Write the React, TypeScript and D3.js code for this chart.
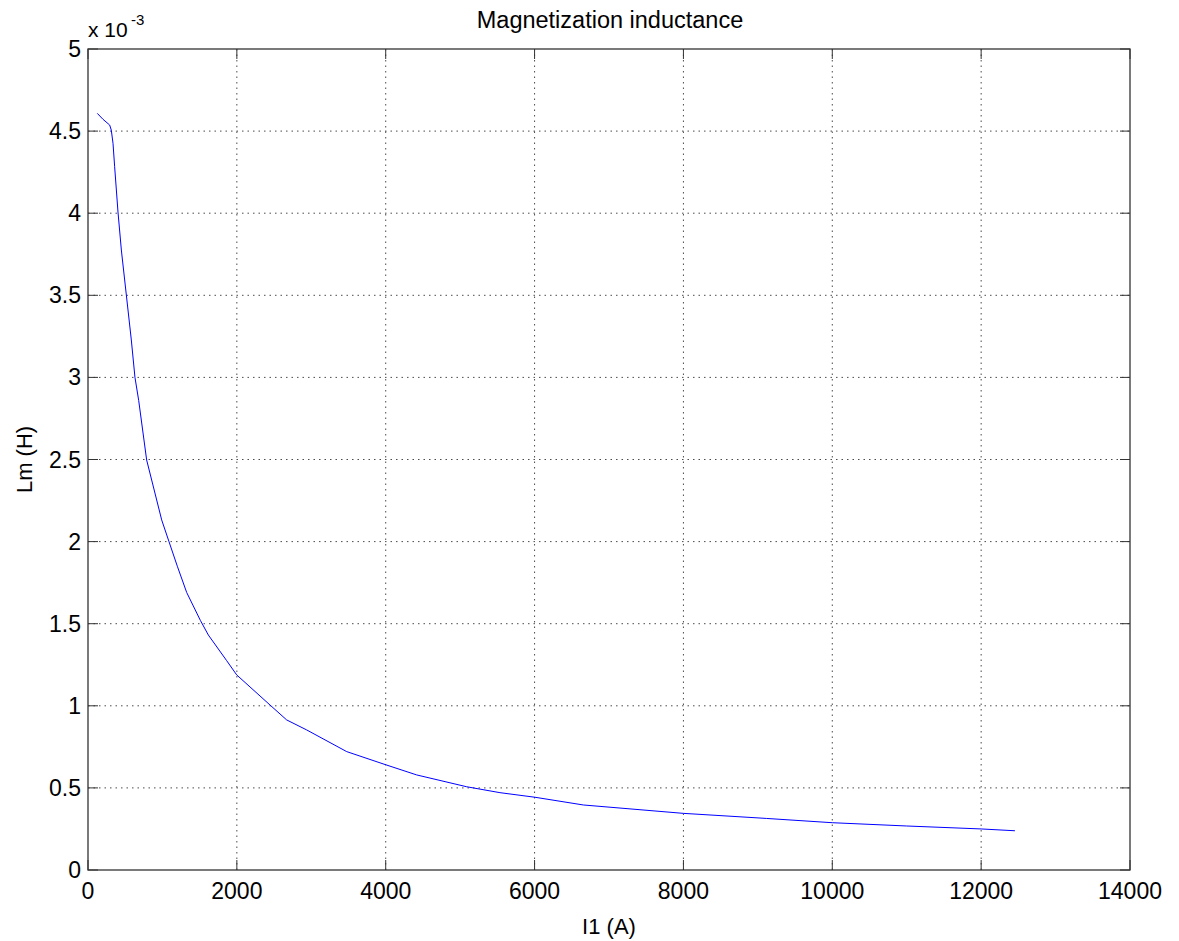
import React from "react";
import * as d3 from "d3";

const currentA = [125, 201, 291, 313, 336, 358, 403, 448, 515, 582, 631, 681, 788, 990, 1088, 1200, 1326, 1510, 1617, 1863, 1998, 2445, 2669, 2938, 3476, 4013, 4416, 5088, 5535, 6006, 6655, 7998, 9118, 10000, 11000, 12000, 12454];
const inductanceMilliH = [4.608, 4.572, 4.537, 4.506, 4.426, 4.283, 4.007, 3.776, 3.502, 3.228, 3.0, 2.86, 2.497, 2.132, 2.0, 1.85, 1.69, 1.52, 1.431, 1.275, 1.188, 1.005, 0.914, 0.853, 0.721, 0.639, 0.579, 0.507, 0.471, 0.443, 0.396, 0.345, 0.314, 0.288, 0.268, 0.25, 0.239];
const xTicks = [0, 2000, 4000, 6000, 8000, 10000, 12000, 14000];
const yTicks = [0, 0.5, 1, 1.5, 2, 2.5, 3, 3.5, 4, 4.5, 5];
const yTickLabels = ["0", "0.5", "1", "1.5", "2", "2.5", "3", "3.5", "4", "4.5", "5"];

const W = 1179, H = 941;
const L = 88, R = 1130, T = 49, B = 870;
const FONT = "'Liberation Sans', Arial, Helvetica, sans-serif";

export default function App() {
  const x = d3.scaleLinear().domain([0, 14000]).range([L, R]);
  const y = d3.scaleLinear().domain([0, 5]).range([B, T]);
  const line = d3.line<number>().x((_, i) => x(currentA[i])).y((d) => y(d));
  const path = line(inductanceMilliH) || "";
  const tickLen = 10;
  return (
    <svg width={W} height={H} style={{ position: "absolute", left: 0, top: 0, background: "#fff" }}>
      <rect x={0} y={0} width={W} height={H} fill="#fff" />
      {xTicks.slice(1, -1).map((t) => (
        <line key={"gx" + t} x1={x(t)} x2={x(t)} y1={T} y2={B} stroke="#000" strokeWidth={1} strokeDasharray="1.5,4" opacity={0.7} />
      ))}
      {yTicks.slice(1, -1).map((t) => (
        <line key={"gy" + t} x1={L} x2={R} y1={y(t)} y2={y(t)} stroke="#000" strokeWidth={1} strokeDasharray="1.5,4" opacity={0.7} />
      ))}
      {xTicks.map((t) => (
        <g key={"tx" + t}>
          <line x1={x(t)} x2={x(t)} y1={B} y2={B - tickLen} stroke="#333" />
          <line x1={x(t)} x2={x(t)} y1={T} y2={T + tickLen} stroke="#333" />
          <text x={x(t)} y={899} textAnchor="middle" fontFamily={FONT} fontSize={23} fill="#000">{t}</text>
        </g>
      ))}
      {yTicks.map((t, i) => (
        <g key={"ty" + t}>
          <line x1={L} x2={L + tickLen} y1={y(t)} y2={y(t)} stroke="#333" />
          <line x1={R} x2={R - tickLen} y1={y(t)} y2={y(t)} stroke="#333" />
          <text x={81} y={y(t) + 8} textAnchor="end" fontFamily={FONT} fontSize={23} fill="#000">{yTickLabels[i]}</text>
        </g>
      ))}
      <rect x={L} y={T} width={R - L} height={B - T} fill="none" stroke="#333" strokeWidth={1.3} />
      <path d={path} fill="none" stroke="#0000ff" strokeWidth={1} />
      <text x={88} y={37} fontFamily={FONT} fontSize={21} fill="#000">x 10</text>
      <text x={131} y={25} fontFamily={FONT} fontSize={15} fill="#000">-3</text>
      <text x={610} y={28} textAnchor="middle" fontFamily={FONT} fontSize={23.5} fill="#000">Magnetization inductance</text>
      <text x={609} y={934} textAnchor="middle" fontFamily={FONT} fontSize={22} fill="#000">I1 (A)</text>
      <text transform={`translate(32,${(T + B) / 2}) rotate(-90)`} textAnchor="middle" fontFamily={FONT} fontSize={22} fill="#000">Lm (H)</text>
    </svg>
  );
}
